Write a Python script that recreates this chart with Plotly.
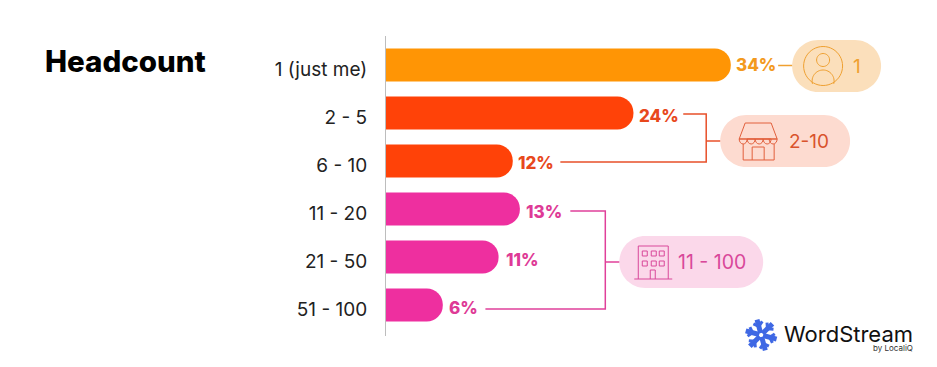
import math
import plotly.graph_objects as go

# ---- data ----
categories = ["1 (just me)", "2 - 5", "6 - 10", "11 - 20", "21 - 50", "51 - 100"]
bar_lengths = [34, 24.4, 12.5, 13.2, 11.1, 5.6]   # drawn length
pct_labels = ["34%", "24%", "12%", "13%", "11%", "6%"]
bar_colors = ["#FF9505", "#FF4208", "#FF4208", "#EE2F9F", "#EE2F9F", "#EE2F9F"]
text_colors = ["#F39A1E", "#E8481C", "#E8481C", "#DE3A96", "#DE3A96", "#DE3A96"]
title_text = "Headcount"
group_labels = ["1", "2-10", "11 - 100"]
label_nudge_x = [5, 6, 5, 6, 7, 6]
label_nudge_y = [0, 3, 2, 3, 3, 3]

W, H = 937, 367
X0, PLOT_TOP, PLOT_BOTTOM = 385.5, 36, 336
PX_PER_UNIT = 10.15
ORANGE, RED, PINK = "#F0A030", "#E8502A", "#E0409A"


def px(x):
    return (x - X0) / (W - X0)


def py(y):
    return (PLOT_BOTTOM - y) / (PLOT_BOTTOM - PLOT_TOP)


def P(x, y):
    return f"{px(x):.5f},{py(y):.5f}"


shapes = []


def path(d, color=None, fill=None, width=1.2):
    shapes.append(dict(type="path", xref="paper", yref="paper", path=d,
                       line=dict(color=color or "rgba(0,0,0,0)", width=width if color else 0),
                       fillcolor=fill or "rgba(0,0,0,0)", layer="above"))


def poly(points, color, width=1.2, closed=False):
    d = "M" + " L".join(P(*p) for p in points) + (" Z" if closed else "")
    path(d, color=color, width=width)


def arc_pts(cx, cy, rx, ry, a0, a1, n=32):
    return [(cx + rx * math.cos(math.radians(a0 + (a1 - a0) * i / n)),
             cy + ry * math.sin(math.radians(a0 + (a1 - a0) * i / n))) for i in range(n + 1)]


def pill(x0, x1, y0, y1, fill):
    r = (y1 - y0) / 2
    pts = arc_pts(x1 - r, y0 + r, r, r, -90, 90) + arc_pts(x0 + r, y0 + r, r, r, 90, 270)
    d = "M" + " L".join(P(*p) for p in pts) + " Z"
    path(d, fill=fill)


# pills
pill(792, 881, 40, 92, "#FBDFBB")
pill(720, 850, 115, 167, "#FDDBD0")
pill(619, 763, 236, 288, "#FBD8EA")

# connectors
poly([(778, 65.5), (792, 65.5)], ORANGE, 1.5)
poly([(683, 114), (706, 114), (706, 162), (560, 162)], RED, 1.5)
poly([(706, 141), (720, 141)], RED, 1.5)
poly([(570, 211), (605, 211), (605, 309), (485, 309)], PINK, 1.5)
poly([(605, 262), (619, 262)], PINK, 1.5)

# person icon
poly(arc_pts(823, 66, 19.5, 19.5, 0, 360, 48), "#EFA030", 1)
poly(arc_pts(823, 60, 6.5, 6.5, 0, 360, 32), "#EFA030", 1)
poly(arc_pts(823, 81, 11, 11, 165, 375, 32), "#EFA030", 1)

# store icon
c = "#E2603C"
poly([(745, 123), (771, 123), (777, 139), (739, 139)], c, 1, True)
poly(arc_pts(743, 139, 4, 5, 0, 180, 8) + arc_pts(751, 139, 4, 5, 0, 180, 8)
     + arc_pts(759, 139, 4, 5, 0, 180, 8) + arc_pts(767, 139, 4, 5, 0, 180, 8)
     + arc_pts(773, 139, 4, 5, 0, 180, 8), c, 1)
poly([(743, 144), (743, 160), (774, 160), (774, 144)], c, 1)
poly([(752, 160), (752, 147), (764, 147), (764, 160)], c, 1)

# building icon
c = "#D9489A"
poly([(638, 279), (638, 246), (668, 246), (668, 279)], c, 1)
poly([(634, 279), (672, 279)], c, 1)
for ix in (642, 651, 659):
    for iy in (251, 261):
        poly([(ix, iy), (ix + 5, iy), (ix + 5, iy + 5), (ix, iy + 5)], c, 1, True)
poly([(650, 279), (650, 270), (655, 270), (655, 279)], c, 1)

# logo mark
c = "#3F68E4"
cx, cy = 761, 335
for a in (15, 75, 135, 195, 255, 315):
    ca, sa = math.cos(math.radians(a)), math.sin(math.radians(a))
    poly([(cx + 2 * ca, cy + 2 * sa), (cx + 16 * ca, cy + 16 * sa)], c, 5)
    for s in (-1, 1):
        bx, by = cx + 9 * ca, cy + 9 * sa
        poly([(bx, by), (bx + 6 * math.cos(math.radians(a + s * 50)),
                         by + 6 * math.sin(math.radians(a + s * 50)))], c, 3)

annotations = []


def note(x, y, text, size, color, anchor="left", family="Inter", weight=None):
    annotations.append(dict(xref="paper", yref="paper", x=px(x), y=py(y), text=text,
                            showarrow=False, xanchor=anchor, yanchor="middle",
                            borderpad=0, borderwidth=0,
                            font=dict(family=family, size=size, color=color, weight=weight)))


note(44, 61, title_text, 29.5, "#000000", weight=800)
note(853, 66, group_labels[0], 19, "#EFA030", "left")
note(789, 141, group_labels[1], 19, "#D9532C", "left")
note(678, 262, group_labels[2], 19.5, "#D9489A", "left")
note(913, 334, "WordStream", 22, "#111111", "right", "Inter", 400)
note(913, 348, "by LocaliQ", 8, "#333333", "right")

# percentage labels, anchored to the bars through the axes
for length, cat, label, col, nx, ny in zip(bar_lengths, categories, pct_labels, text_colors,
                                           label_nudge_x, label_nudge_y):
    annotations.append(dict(xref="x", yref="y", x=length, y=cat, text=label, showarrow=False,
                            xanchor="left", yanchor="middle", xshift=nx, yshift=-ny,
                            borderpad=0, borderwidth=0,
                            font=dict(family="Inter", size=17, color=col, weight=800)))

fig = go.Figure(go.Bar(
    x=bar_lengths, y=categories, orientation="h",
    marker=dict(color=bar_colors, cornerradius=16.5, line=dict(width=0)),
    cliponaxis=False, hoverinfo="skip",
))

fig.update_layout(
    width=W, height=H, autosize=False,
    margin=dict(l=X0, r=0, t=PLOT_TOP, b=H - PLOT_BOTTOM, pad=0),
    paper_bgcolor="white", plot_bgcolor="white",
    showlegend=False, bargap=1 - 33 / 48,
    shapes=shapes, annotations=annotations,
    font=dict(family="Inter", color="#222222"),
)
fig.update_xaxes(range=[0, (W - X0) / PX_PER_UNIT], visible=False, fixedrange=True)
fig.update_yaxes(
    type="category", categoryorder="array", categoryarray=categories,
    range=[5 + 31 / 48, -29 / 48], showgrid=False, zeroline=False,
    showline=True, linecolor="#BDBDBD", linewidth=1,
    ticks="", ticklabelstandoff=14, ticklabelshift=-4, fixedrange=True,
    tickfont=dict(family="Inter", size=19, color="#222222"),
)

fig.write_html("out.html", config={"displayModeBar": False},
               post_script="document.body.style.margin='0';document.body.style.overflow='hidden';")
